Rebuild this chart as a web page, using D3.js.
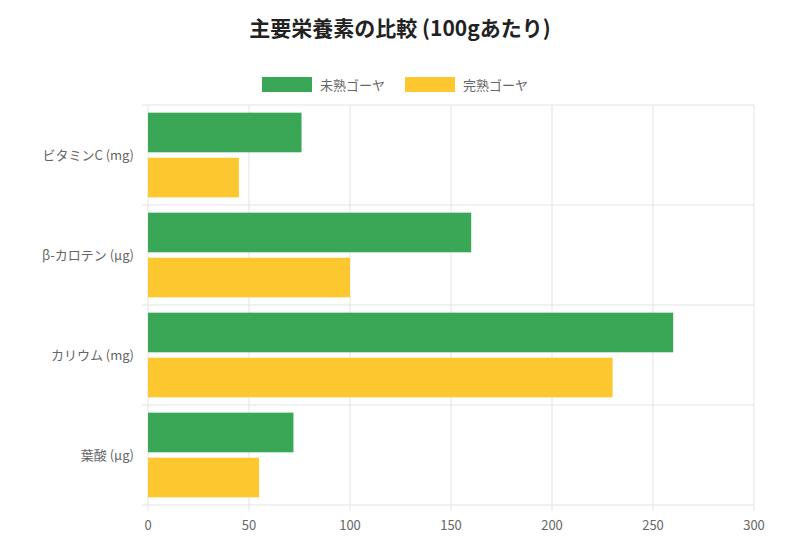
<!DOCTYPE html>
<html><head><meta charset="utf-8">
<script src="https://cdn.jsdelivr.net/npm/d3@7"></script>
<style>body{margin:0;background:#fff;font-family:"Noto Sans CJK JP","Noto Sans",sans-serif}</style>
</head><body><div id="chart"></div>
<script>
const categories = ["ビタミンC (mg)", "β-カロテン (µg)", "カリウム (mg)", "葉酸 (µg)"];
const seriesNames = ["未熟ゴーヤ", "完熟ゴーヤ"];
const unripe = [76, 160, 260, 72];
const ripe = [45, 100, 230, 55];
const xTicks = [0, 50, 100, 150, 200, 250, 300];
const colors = ["#3aa757", "#fdc82f"];

const width = 800, height = 555;
const m = {top: 105, right: 46, bottom: 50, left: 148};

const svg = d3.select("#chart").append("svg")
  .attr("width", width).attr("height", height);

svg.append("text")
  .attr("x", width / 2).attr("y", 36)
  .attr("text-anchor", "middle")
  .attr("font-size", 21).attr("font-weight", "bold")
  .attr("fill", "#222")
  .text("主要栄養素の比較 (100gあたり)");

const x = d3.scaleLinear().domain([0, 300]).range([m.left, width - m.right]);
const y = d3.scaleBand().domain(categories).range([m.top, height - m.bottom]);
const inner = d3.scaleBand().domain([0, 1]).range([0, y.bandwidth()]).paddingInner(0.12).paddingOuter(0.17);

// grid
svg.append("g").selectAll("line").data(xTicks).join("line")
  .attr("x1", d => x(d)).attr("x2", d => x(d))
  .attr("y1", m.top).attr("y2", height - m.bottom + 6)
  .attr("stroke", "#e3e3e3");
svg.append("g").selectAll("line").data(d3.range(categories.length + 1)).join("line")
  .attr("x1", m.left - 6).attr("x2", width - m.right)
  .attr("y1", i => m.top + i * y.step()).attr("y2", i => m.top + i * y.step())
  .attr("stroke", "#e3e3e3");

const rows = svg.append("g").selectAll("g").data(categories).join("g")
  .attr("transform", d => `translate(0,${y(d)})`);
rows.selectAll("rect").data((d, i) => [unripe[i], ripe[i]]).join("rect")
  .attr("x", x(0))
  .attr("y", (d, j) => inner(j))
  .attr("height", inner.bandwidth())
  .attr("width", d => x(d) - x(0))
  .attr("fill", (d, j) => colors[j]);

// axes labels
svg.append("g").selectAll("text").data(xTicks).join("text")
  .attr("x", d => x(d)).attr("y", height - m.bottom + 25)
  .attr("text-anchor", "middle").attr("font-size", 13).attr("fill", "#666")
  .text(d => d);
svg.append("g").selectAll("text").data(categories).join("text")
  .attr("x", m.left - 14).attr("y", d => y(d) + y.bandwidth() / 2 + 5)
  .attr("text-anchor", "end").attr("font-size", 13).attr("fill", "#666")
  .text(d => d);

// legend
const legendX = [262, 405];
const lg = svg.append("g").selectAll("g").data(seriesNames).join("g")
  .attr("transform", (d, i) => `translate(${legendX[i]},77)`);
lg.append("rect").attr("width", 50).attr("height", 15).attr("fill", (d, i) => colors[i]);
lg.append("text").attr("x", 58).attr("y", 13).attr("font-size", 13).attr("fill", "#666").text(d => d);
</script></body></html>
